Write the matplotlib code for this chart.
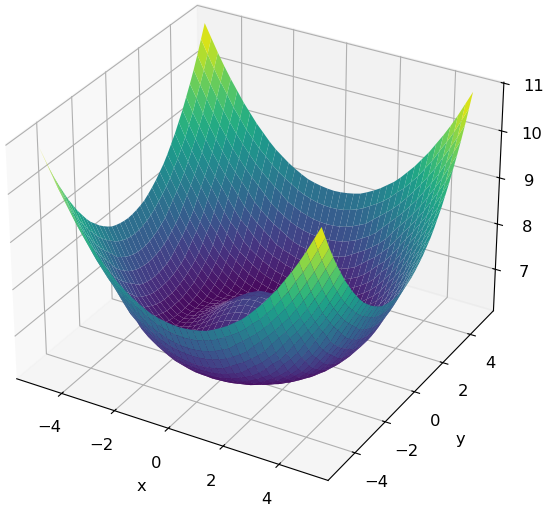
"""
Surface plot of a bowl with raised corners and a small bump in the middle
"""
import numpy as np
import matplotlib
matplotlib.use('Agg')
import matplotlib.pyplot as plt

plt.rcParams['font.size'] = 11.8

# grid positions for one quadrant, x and y from 0 to 5
coords = [0.0, 0.25, 0.5, 0.75, 1.0, 1.25, 1.5, 1.75, 2.0, 2.25, 2.5,
          2.75, 3.0, 3.25, 3.5, 3.75, 4.0, 4.25, 4.5, 4.75, 5.0]

# heights for that quadrant (row = y, column = x)
heights = [
    [7.12, 7.11, 7.06, 6.97, 6.87, 6.76, 6.64, 6.52, 6.42, 6.33, 6.26, 6.23, 6.26, 6.38, 6.52, 6.69, 6.88, 7.15, 7.40, 7.70, 8.00],
    [7.11, 7.09, 7.05, 6.96, 6.86, 6.75, 6.63, 6.51, 6.41, 6.33, 6.26, 6.23, 6.27, 6.38, 6.52, 6.70, 6.89, 7.16, 7.41, 7.71, 8.01],
    [7.06, 7.05, 6.99, 6.91, 6.82, 6.72, 6.60, 6.48, 6.39, 6.31, 6.25, 6.23, 6.28, 6.39, 6.54, 6.71, 6.91, 7.18, 7.43, 7.73, 8.03],
    [6.97, 6.96, 6.91, 6.85, 6.76, 6.67, 6.55, 6.45, 6.36, 6.29, 6.24, 6.23, 6.30, 6.42, 6.57, 6.74, 6.94, 7.21, 7.47, 7.77, 8.06],
    [6.87, 6.86, 6.82, 6.76, 6.69, 6.59, 6.49, 6.41, 6.33, 6.27, 6.23, 6.24, 6.33, 6.46, 6.61, 6.79, 6.99, 7.26, 7.52, 7.82, 8.10],
    [6.76, 6.75, 6.72, 6.67, 6.59, 6.51, 6.43, 6.35, 6.29, 6.25, 6.23, 6.27, 6.38, 6.50, 6.67, 6.84, 7.08, 7.32, 7.59, 7.89, 8.17],
    [6.64, 6.63, 6.60, 6.55, 6.49, 6.43, 6.37, 6.31, 6.26, 6.23, 6.24, 6.32, 6.43, 6.57, 6.73, 6.91, 7.17, 7.41, 7.66, 7.98, 8.25],
    [6.52, 6.51, 6.48, 6.45, 6.41, 6.35, 6.31, 6.27, 6.24, 6.23, 6.29, 6.38, 6.50, 6.65, 6.81, 7.03, 7.26, 7.50, 7.79, 8.07, 8.34],
    [6.42, 6.41, 6.39, 6.36, 6.33, 6.29, 6.26, 6.24, 6.23, 6.27, 6.35, 6.46, 6.59, 6.74, 6.91, 7.15, 7.37, 7.61, 7.91, 8.17, 8.45],
    [6.33, 6.33, 6.31, 6.29, 6.27, 6.25, 6.23, 6.23, 6.27, 6.34, 6.44, 6.55, 6.69, 6.84, 7.05, 7.26, 7.49, 7.77, 8.03, 8.29, 8.56],
    [6.26, 6.26, 6.25, 6.24, 6.23, 6.23, 6.24, 6.29, 6.35, 6.44, 6.54, 6.67, 6.80, 6.97, 7.20, 7.41, 7.63, 7.92, 8.16, 8.44, 8.70],
    [6.23, 6.23, 6.23, 6.23, 6.24, 6.27, 6.32, 6.38, 6.46, 6.55, 6.67, 6.79, 6.94, 7.16, 7.33, 7.56, 7.82, 8.07, 8.31, 8.57, 8.86],
    [6.26, 6.27, 6.28, 6.30, 6.33, 6.38, 6.43, 6.50, 6.59, 6.69, 6.80, 6.94, 7.12, 7.31, 7.52, 7.76, 8.00, 8.23, 8.48, 8.74, 9.02],
    [6.38, 6.38, 6.39, 6.42, 6.46, 6.50, 6.57, 6.65, 6.74, 6.84, 6.97, 7.16, 7.31, 7.50, 7.73, 7.96, 8.17, 8.41, 8.66, 8.91, 9.21],
    [6.52, 6.52, 6.54, 6.57, 6.61, 6.67, 6.73, 6.81, 6.91, 7.05, 7.20, 7.33, 7.52, 7.73, 7.94, 8.14, 8.36, 8.59, 8.85, 9.12, 9.40],
    [6.69, 6.70, 6.71, 6.74, 6.79, 6.84, 6.91, 7.03, 7.15, 7.26, 7.41, 7.56, 7.76, 7.96, 8.14, 8.35, 8.56, 8.81, 9.06, 9.32, 9.62],
    [6.88, 6.89, 6.91, 6.94, 6.99, 7.08, 7.17, 7.26, 7.37, 7.49, 7.63, 7.82, 8.00, 8.17, 8.36, 8.56, 8.79, 9.03, 9.28, 9.57, 9.84],
    [7.15, 7.16, 7.18, 7.21, 7.26, 7.32, 7.41, 7.50, 7.61, 7.77, 7.92, 8.07, 8.23, 8.41, 8.59, 8.81, 9.03, 9.26, 9.53, 9.80, 10.08],
    [7.40, 7.41, 7.43, 7.47, 7.52, 7.59, 7.66, 7.79, 7.91, 8.03, 8.16, 8.31, 8.48, 8.66, 8.85, 9.06, 9.28, 9.53, 9.78, 10.05, 10.34],
    [7.70, 7.71, 7.73, 7.77, 7.82, 7.89, 7.98, 8.07, 8.17, 8.29, 8.44, 8.57, 8.74, 8.91, 9.12, 9.32, 9.57, 9.80, 10.05, 10.33, 10.62],
    [8.00, 8.01, 8.03, 8.06, 8.10, 8.17, 8.25, 8.34, 8.45, 8.56, 8.70, 8.86, 9.02, 9.21, 9.40, 9.62, 9.84, 10.08, 10.34, 10.62, 10.90],
]

# the bowl looks the same in all four quadrants, so mirror the one above
half = np.array(coords)
axis_vals = np.concatenate((-half[:0:-1], half))
quad = np.array(heights)
upper = np.hstack((quad[:, :0:-1], quad))
Z = np.vstack((upper[:0:-1], upper))
X, Y = np.meshgrid(axis_vals, axis_vals)

fig = plt.figure(figsize=(5.5, 5.09), dpi=100)
size = 554.0
ax = fig.add_axes([(252 - size / 2) / 550, (270.5 - size / 2) / 509, size / 550, size / 509],
                  projection='3d')
ax.set_box_aspect((3.9, 3.9, 2.92))
ax.plot_surface(X, Y, Z, cmap='viridis', vmin=6.15, vmax=10.9, linewidth=0, rcount=50, ccount=50)
ax.set_xlabel('x', labelpad=9)
ax.set_ylabel('y', labelpad=10)
ax.set_xticks([-4, -2, 0, 2, 4])
ax.set_yticks([-4, -2, 0, 2, 4])
ax.tick_params(axis='x', pad=6)
ax.tick_params(axis='y', pad=6)
ax.tick_params(axis='z', pad=5)
ax.set_zlim(6.07, 11.02, view_margin=0)
ax.set_zticks([7, 8, 9, 10, 11])

plt.savefig('out.png', dpi=100)
